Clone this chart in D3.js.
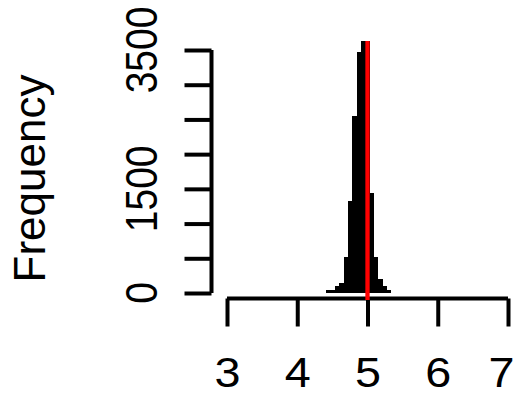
<!DOCTYPE html>
<html>
<head>
<meta charset="utf-8">
<script src="https://cdn.jsdelivr.net/npm/d3@7/dist/d3.min.js"></script>
<style>
  body { margin: 0; background: #fff; }
  text { font-family: "Liberation Sans", Arial, sans-serif; fill: #000; }
</style>
</head>
<body>
<script>
// histogram breaks and counts
var breaks = [4.415, 4.476, 4.538, 4.600, 4.661, 4.723, 4.784, 4.846, 4.908,
              4.969, 5.031, 5.092, 5.154, 5.216, 5.277, 5.339];
var counts = [43, 43, 101, 144, 518, 1325, 2549, 3471, 3630, 3700, 1440, 518, 206, 101, 43];
var xTicks = [3, 4, 5, 6, 7];
var yTicks = [0, 500, 1000, 1500, 2000, 2500, 3000, 3500];
var yLabels = [0, 1500, 3500];
var refLine = 5;

var width = 514, height = 395;
var plotTop = 41, plotBottom = 300;

var x = d3.scaleLinear().domain([3, 7]).range([227, 508]);
var y = d3.scaleLinear().domain([0, 3500]).range([293, 50]);

var svg = d3.select("body").append("svg")
    .attr("width", width).attr("height", height);

svg.append("clipPath").attr("id", "plot")
  .append("rect")
    .attr("x", 0).attr("y", plotTop)
    .attr("width", width).attr("height", plotBottom - plotTop);

var bins = counts.map(function(c, i){ return {x0: breaks[i], x1: breaks[i+1], n: c}; });

svg.append("g").attr("clip-path", "url(#plot)")
  .selectAll("rect")
  .data(bins)
  .enter().append("rect")
    .attr("x", function(d){ return x(d.x0); })
    .attr("width", function(d){ return x(d.x1) - x(d.x0); })
    .attr("y", function(d){ return y(d.n); })
    .attr("height", function(d){ return y(0) - y(d.n); })
    .attr("fill", "#000")
    .attr("shape-rendering", "crispEdges");

// x axis
var xAxis = d3.axisBottom(x).tickValues(xTicks).tickSize(28).tickFormat("");
var gx = svg.append("g").attr("transform", "translate(0,298.5)").call(xAxis);
gx.select(".domain").attr("d", "M" + x(3) + ",0H" + x(7))
    .attr("stroke", "#000").attr("stroke-width", 4);
gx.selectAll(".tick line").attr("stroke", "#000").attr("stroke-width", 4);

// keep the last label inside the picture
gx.selectAll(".tick").append("text")
    .attr("text-anchor", "middle")
    .attr("font-size", 40)
    .attr("transform", function(d){
        var dx = Math.min(0, (width - 13) - x(d));
        return "translate(" + dx + ",88) scale(1.17,1.04)";
    })
    .text(function(d){ return d; });

// y axis
var yAxis = d3.axisLeft(y).tickValues(yTicks).tickSize(27).tickFormat("");
var gy = svg.append("g").attr("transform", "translate(211.5,0)").call(yAxis);
gy.select(".domain").attr("d", "M0," + y(0) + "V" + y(3500))
    .attr("stroke", "#000").attr("stroke-width", 4);
gy.selectAll(".tick line").attr("stroke", "#000").attr("stroke-width", 4);

svg.append("g").selectAll("text")
  .data(yLabels)
  .enter().append("text")
    .attr("text-anchor", "middle")
    .attr("font-size", 39)
    .attr("transform", function(d){ return "translate(157," + y(d) + ") rotate(-90) scale(1,1.15)"; })
    .text(function(d){ return d; });

svg.append("text")
    .attr("text-anchor", "middle")
    .attr("font-size", 44)
    .attr("transform", "translate(45,178.5) rotate(-90)")
    .text("Frequency");

// reference line
svg.append("line")
    .attr("x1", x(refLine)).attr("x2", x(refLine))
    .attr("y1", plotTop).attr("y2", plotBottom)
    .attr("stroke", "#ff0000").attr("stroke-width", 4.3);
</script>
</body>
</html>
